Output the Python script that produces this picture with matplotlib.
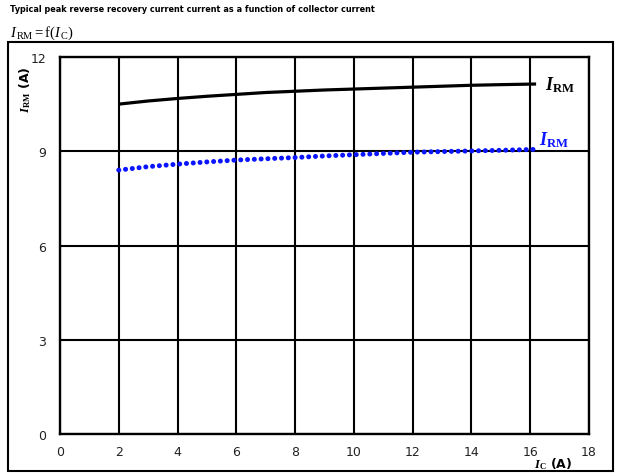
import matplotlib
matplotlib.use("Agg")
import matplotlib.pyplot as plt
from matplotlib.patches import Rectangle

plt.rcParams["font.family"] = ["DejaVu Sans"]
plt.rcParams["mathtext.fontset"] = "custom"
plt.rcParams["mathtext.rm"] = "Liberation Serif"
plt.rcParams["mathtext.it"] = "Liberation Serif:italic"
plt.rcParams["mathtext.bf"] = "Liberation Serif:bold"
plt.rcParams["mathtext.bfit"] = "Liberation Serif:italic:bold"

# Collector current (A) and peak reverse recovery current (A)
ic_black = [2.0, 3.0, 4.0, 5.0, 6.0, 7.0, 8.0, 9.0, 10.0, 11.0, 12.0, 13.0, 14.0, 15.0, 16.2]
irm_black = [10.50, 10.60, 10.68, 10.75, 10.81, 10.87, 10.91, 10.95, 10.98, 11.01, 11.04, 11.07, 11.10, 11.12, 11.14]

ic_blue = [2.0, 3.0, 4.0, 5.0, 6.0, 7.0, 8.0, 9.0, 10.0, 11.0, 12.0, 13.0, 14.0, 15.0, 16.2]
irm_blue = [8.40, 8.51, 8.59, 8.66, 8.72, 8.76, 8.80, 8.85, 8.89, 8.93, 8.97, 8.99, 9.01, 9.03, 9.06]

x_ticks = [0, 2, 4, 6, 8, 10, 12, 14, 16, 18]
y_ticks = [0, 3, 6, 9, 12]

W, H = 627, 477
fig = plt.figure(figsize=(W / 100, H / 100), dpi=100)

# outer frame around the chart
fig.patches.append(Rectangle((8 / W, 1 - 472 / H), 605 / W, 429 / H,
                             transform=fig.transFigure, fill=False,
                             edgecolor="black", linewidth=1.5))

ax = fig.add_axes([60 / W, 1 - 435 / H, 529 / W, 377 / H])
ax.set_xlim(0, 18)
ax.set_ylim(0, 12)
ax.set_xticks(x_ticks)
ax.set_yticks(y_ticks)
ax.grid(True, color="black", linewidth=1.5)
ax.set_axisbelow(True)
for s in ax.spines.values():
    s.set_linewidth(1.7)
ax.tick_params(length=0, labelsize=9, labelcolor="#222222")
ax.tick_params(axis="y", pad=10)
ax.tick_params(axis="x", pad=8)

ax.plot(ic_black, irm_black, color="black", linewidth=2.3, solid_capstyle="butt", zorder=3)
ax.plot(ic_blue, irm_blue, color="#0a14ff", linewidth=3.6,
        linestyle=(0, (0.01, 1.35)), dash_capstyle="round", zorder=3)

ax.text(16.5, 11.12, r"$\mathbfit{I}_{\mathbf{RM}}$", fontsize=13, color="black",
        va="center", ha="left")
ax.text(16.3, 9.4, r"$\mathbfit{I}_{\mathbf{RM}}$", fontsize=13, color="#0a14ff",
        va="center", ha="left")

fig.text(25 / W, 1 - 90 / H, r"$\mathbfit{I}_{\mathbf{RM}}$" + " (A)", rotation=90,
         fontsize=9, fontweight="bold", ha="center", va="center")
fig.text(553 / W, 1 - 464 / H, r"$\mathbfit{I}_{\mathbf{C}}$" + " (A)",
         fontsize=9, fontweight="bold", ha="center", va="center")

fig.text(10 / W, 1 - 10 / H, "Typical peak reverse recovery current current as a function of collector current",
         fontsize=5.9, fontweight="bold", ha="left", va="center")
fig.text(10 / W, 1 - 33 / H, r"$I_{\,\mathrm{RM}} = \mathrm{f}(I_{\,\mathrm{C}})$", fontsize=10.5,
         ha="left", va="center")

fig.savefig("out.png", dpi=100)
